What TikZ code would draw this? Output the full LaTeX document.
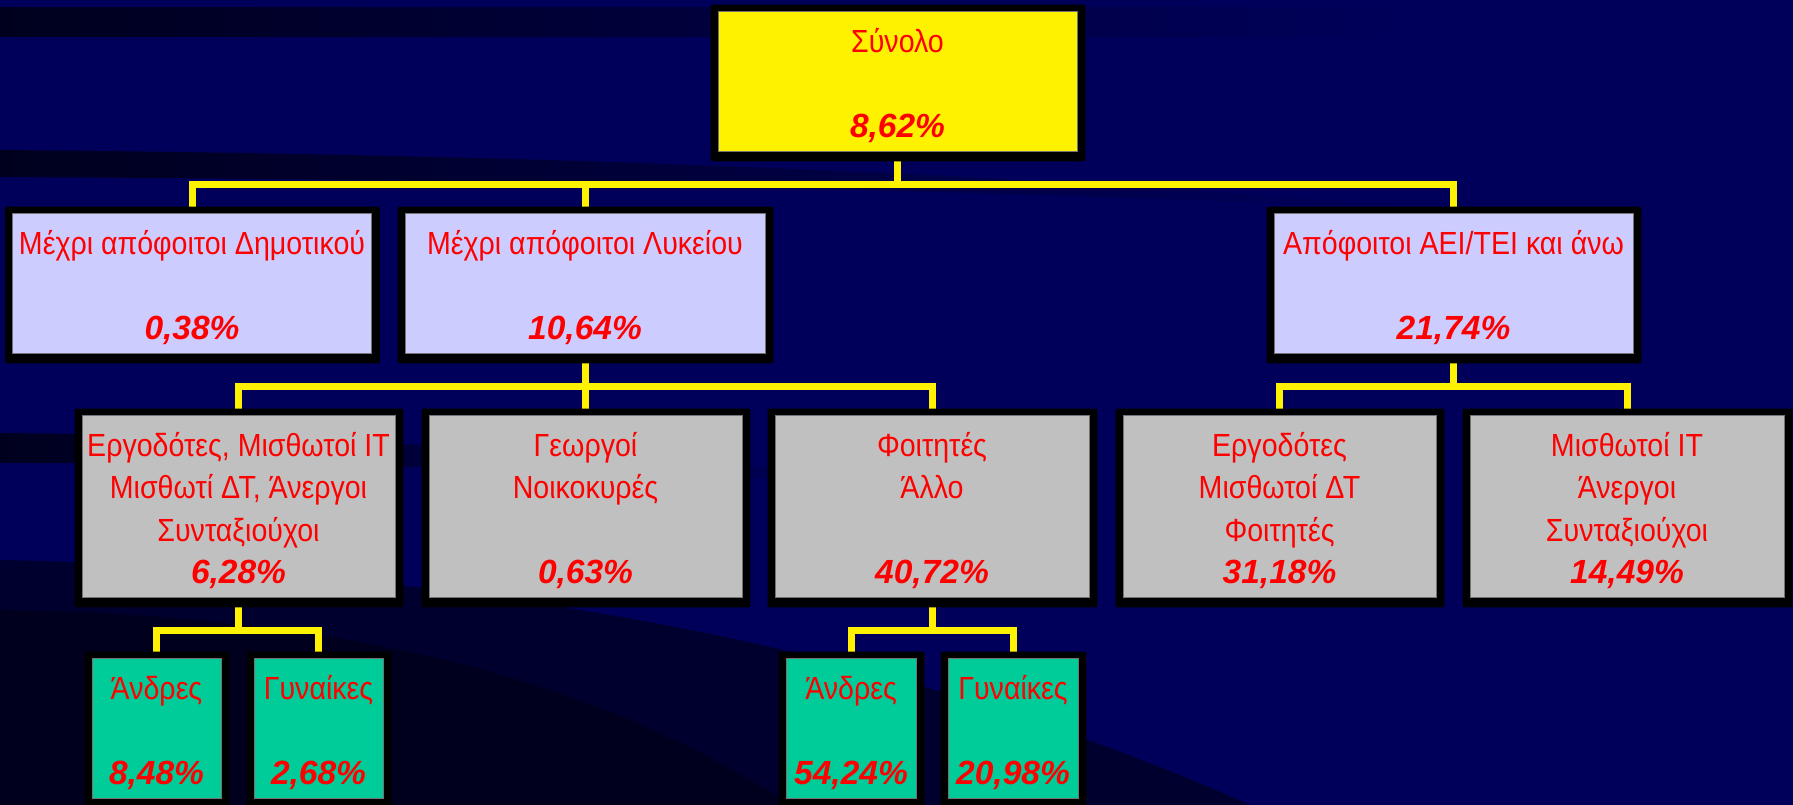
\documentclass[tikz,border=0pt]{standalone}
\usepackage{fontspec}
\setmainfont{Liberation Sans}
\newfontfamily\lblfont{Liberation Sans}[FakeStretch=0.893]
\newfontfamily\numfont{Liberation Sans}
\definecolor{bgnavy}{HTML}{00005A}
\definecolor{swdark}{HTML}{00001E}
\definecolor{swmid}{HTML}{00002E}
\definecolor{lav}{HTML}{CCCCFF}
\definecolor{boxgrey}{HTML}{C0C0C0}
\definecolor{boxgreen}{HTML}{00CC99}
\pgfdeclarelayer{bgimg}
\pgfdeclarelayer{conn}
\pgfdeclarelayer{back}
\pgfsetlayers{bgimg,conn,back,main}
\newcommand{\pc}[1]{{\numfont\bfseries\itshape\fontsize{33.5}{42.5}\selectfont #1}}
\newcommand{\fl}{\rule{0pt}{33pt}}
\tikzset{
  box/.style={draw=black!55, line width=0.8pt, inner sep=0pt, text=red, align=center,
    font=\lblfont\fontsize{32}{42.5}\selectfont},
  topbox/.style={box, fill=yellow, minimum width=359, minimum height=140},
  midbox/.style={box, fill=lav, minimum width=359, minimum height=140},
  lowbox/.style={box, fill=boxgrey, minimum width=313, minimum height=182},
  leafbox/.style={box, fill=boxgreen, minimum width=129, minimum height=140},
  conn/.style={draw=yellow, line width=7pt},
  backing/.style={fill=black, rounded corners=2pt}
}
\begin{document}
\begin{tikzpicture}[x=1pt,y=-1pt]
\useasboundingbox (0,0) rectangle (1793,805);
\begin{pgfonlayer}{bgimg}
  \fill[bgnavy] (0,0) rectangle (1793,805);
  \shade[left color=swdark, right color=bgnavy] (0,8) rectangle (1400,37);
  \shade[left color=swdark, right color=bgnavy] (0,150) .. controls (600,155) and (1000,175) .. (1400,205)
     -- (1400,208) .. controls (1000,192) and (600,180) .. (0,177) -- cycle;
  \shade[left color=swdark, right color=bgnavy] (0,433) .. controls (300,436) and (600,450) .. (900,480)
     -- (900,484) .. controls (600,470) and (300,462) .. (0,463) -- cycle;
  \fill[swmid] (0,560) .. controls (500,570) and (900,650) .. (1250,805) -- (0,805) -- cycle;
  \fill[swdark] (0,610) .. controls (350,615) and (600,680) .. (790,805) -- (0,805) -- cycle;
\end{pgfonlayer}

\node[topbox] (S) at (897.5,81) {\fl Σύνολο\\[42.5pt]\pc{8,62\%}};

\node[midbox] (A) at (192,283) {\fl Μέχρι απόφοιτοι Δημοτικού\\[42.5pt]\pc{0,38\%}};
\node[midbox, minimum width=360] (B) at (585,283) {\fl Μέχρι απόφοιτοι Λυκείου\\[42.5pt]\pc{10,64\%}};
\node[midbox] (C) at (1453.5,283) {\fl Απόφοιτοι ΑΕΙ/ΤΕΙ και άνω\\[42.5pt]\pc{21,74\%}};

\node[lowbox] (D) at (238.5,506) {\fl Εργοδότες, Μισθωτοί ΙΤ\\Μισθωτί ΔΤ, Άνεργοι\\Συνταξιούχοι\\\pc{6,28\%}};
\node[lowbox] (E) at (585.5,506) {\fl Γεωργοί\\Νοικοκυρές\\[42.5pt]\pc{0,63\%}};
\node[lowbox, minimum width=314] (F) at (932,506) {\fl Φοιτητές\\Άλλο\\[42.5pt]\pc{40,72\%}};
\node[lowbox] (G) at (1279.5,506) {\fl Εργοδότες\\Μισθωτοί ΔΤ\\Φοιτητές\\\pc{31,18\%}};
\node[lowbox, minimum width=314] (H) at (1627,506) {\fl Μισθωτοί ΙΤ\\Άνεργοι\\Συνταξιούχοι\\\pc{14,49\%}};

\node[leafbox] (I) at (156.5,728) {\fl Άνδρες\\[42.5pt]\pc{8,48\%}};
\node[leafbox] (J) at (318.5,728) {\fl Γυναίκες\\[42.5pt]\pc{2,68\%}};
\node[leafbox, minimum width=130] (K) at (851,728) {\fl Άνδρες\\[42.5pt]\pc{54,24\%}};
\node[leafbox, minimum width=130] (L) at (1013,728) {\fl Γυναίκες\\[42.5pt]\pc{20,98\%}};

\begin{pgfonlayer}{back}
  \foreach \n in {S,A,B,C,D,E,F,G,H,I,J,K,L}
    \fill[backing] ([xshift=-7pt,yshift=6pt]\n.north west) rectangle ([xshift=8pt,yshift=-10pt]\n.south east);
\end{pgfonlayer}

\begin{pgfonlayer}{conn}
  \foreach \c in {A,B,C}
    \draw[conn] (S.south) -- ++(0,33) -| (\c.north);
  \foreach \c in {D,E,F}
    \draw[conn] (B.south) -- ++(0,33) -| (\c.north);
  \foreach \c in {G,H}
    \draw[conn] (C.south) -- ++(0,33) -| (\c.north);
  \foreach \c in {I,J}
    \draw[conn] (D.south) -- ++(0,33) -| (\c.north);
  \foreach \c in {K,L}
    \draw[conn] (F.south) -- ++(0,33) -| (\c.north);
\end{pgfonlayer}
\end{tikzpicture}
\end{document}
